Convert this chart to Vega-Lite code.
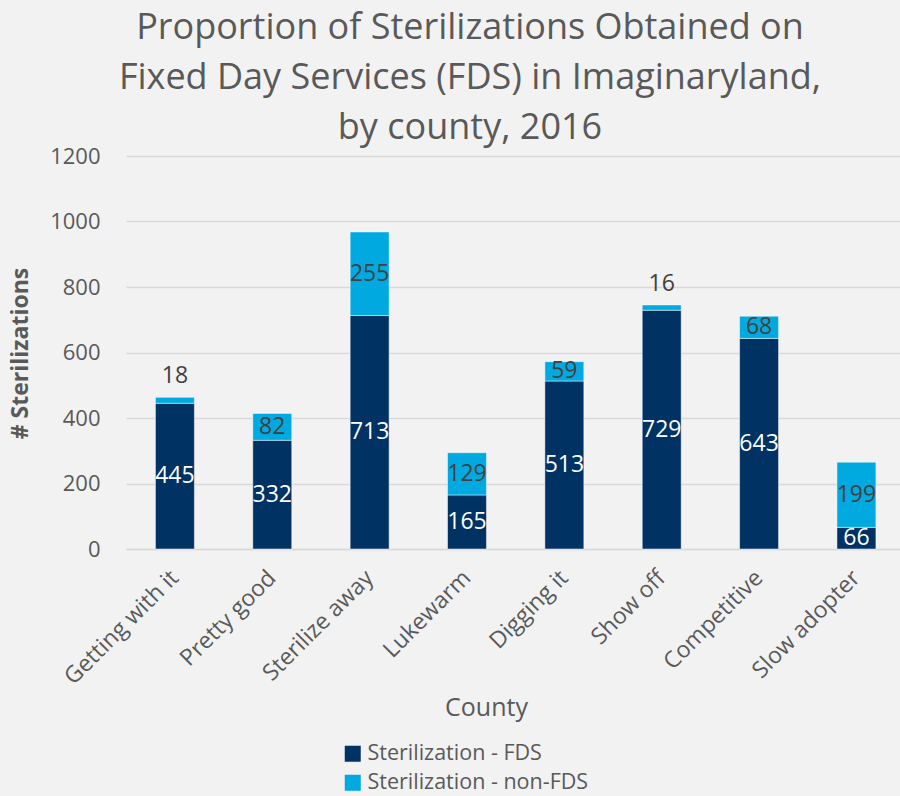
{
  "$schema": "https://vega.github.io/schema/vega-lite/v6.json",
  "autosize": "none",
  "width": 774,
  "height": 393,
  "padding": {"left": 126, "top": 156, "right": 0, "bottom": 247},
  "background": "#f2f2f2",
  "title": {
    "text": ["Proportion of Sterilizations Obtained on", "Fixed Day Services (FDS) in Imaginaryland,", "by county, 2016"],
    "font": "Open Sans",
    "fontSize": 36,
    "fontWeight": "normal",
    "color": "#595959",
    "lineHeight": 50,
    "anchor": "middle",
    "baseline": "bottom",
    "offset": -38,
    "dx": -43
  },
  "data": {
    "values": [
      {"county": "Getting with it", "series": "Sterilization - FDS", "value": 445},
      {"county": "Getting with it", "series": "Sterilization - non-FDS", "value": 18},
      {"county": "Pretty good", "series": "Sterilization - FDS", "value": 332},
      {"county": "Pretty good", "series": "Sterilization - non-FDS", "value": 82},
      {"county": "Sterilize away", "series": "Sterilization - FDS", "value": 713},
      {"county": "Sterilize away", "series": "Sterilization - non-FDS", "value": 255},
      {"county": "Lukewarm", "series": "Sterilization - FDS", "value": 165},
      {"county": "Lukewarm", "series": "Sterilization - non-FDS", "value": 129},
      {"county": "Digging it", "series": "Sterilization - FDS", "value": 513},
      {"county": "Digging it", "series": "Sterilization - non-FDS", "value": 59},
      {"county": "Show off", "series": "Sterilization - FDS", "value": 729},
      {"county": "Show off", "series": "Sterilization - non-FDS", "value": 16},
      {"county": "Competitive", "series": "Sterilization - FDS", "value": 643},
      {"county": "Competitive", "series": "Sterilization - non-FDS", "value": 68},
      {"county": "Slow adopter", "series": "Sterilization - FDS", "value": 66},
      {"county": "Slow adopter", "series": "Sterilization - non-FDS", "value": 199}
    ]
  },
  "encoding": {
    "x": {
      "field": "county",
      "type": "nominal",
      "sort": null,
      "scale": {"paddingInner": 0.6, "paddingOuter": 0.275, "align": 0.55},
      "axis": {
        "title": "County",
        "titleFont": "Open Sans",
        "titleFontSize": 25,
        "titleFontWeight": "normal",
        "titleColor": "#595959",
        "titleX": 360,
        "titleY": 158,
        "titleBaseline": "middle",
        "titleAlign": "center",
        "labelAngle": -45,
        "labelAlign": "right",
        "labelBaseline": "middle",
        "labelFont": "Open Sans",
        "labelFontSize": 23,
        "labelColor": "#595959",
        "labelPadding": 25,
        "labelLimit": 0,
        "ticks": false,
        "tickSize": 0,
        "domainColor": "#d9d9d9",
        "domainWidth": 1.5,
        "grid": false
      }
    }
  },
  "layer": [
    {
      "mark": {"type": "bar", "stroke": "#ffffff", "strokeOpacity": 0.6, "strokeWidth": 0.8},
      "encoding": {
        "y": {
          "field": "value",
          "type": "quantitative",
          "stack": "zero",
          "scale": {"domain": [0, 1200], "nice": false},
          "axis": {
            "title": "# Sterilizations",
            "titleFont": "Open Sans",
            "titleFontSize": 23,
            "titleFontWeight": "bold",
            "titleColor": "#595959",
            "titleX": -106,
            "titleY": 197,
            "titleAngle": -90,
            "titleAlign": "center",
            "titleBaseline": "middle",
            "values": [0, 200, 400, 600, 800, 1000, 1200],
            "format": "d",
            "labelFont": "Open Sans",
            "labelFontSize": 22,
            "labelColor": "#595959",
            "labelPadding": 26,
            "ticks": false,
            "tickSize": 0,
            "domain": false,
            "gridColor": "#d9d9d9",
            "gridWidth": 1.5
          }
        },
        "color": {
          "field": "series",
          "type": "nominal",
          "scale": {"domain": ["Sterilization - FDS", "Sterilization - non-FDS"], "range": ["#003263", "#00a9e0"]},
          "legend": {
            "title": null,
            "orient": "none",
            "legendX": 216,
            "legendY": 587,
            "direction": "vertical",
            "symbolType": "square",
            "symbolSize": 256,
            "symbolStrokeWidth": 0,
            "symbolOpacity": 1,
            "labelFont": "Open Sans",
            "labelFontSize": 21.5,
            "labelColor": "#595959",
            "labelOffset": 4,
            "labelLimit": 0,
            "rowPadding": 6,
            "padding": 0
          }
        },
        "order": {"field": "series", "sort": "ascending"}
      }
    },
    {
      "transform": [
        {"stack": "value", "groupby": ["county"], "sort": [{"field": "series", "order": "ascending"}], "as": ["v0", "v1"]},
        {"calculate": "(datum.v0 + datum.v1) / 2", "as": "mid"},
        {"filter": "datum.value >= 30"}
      ],
      "mark": {"type": "text", "font": "Open Sans", "fontSize": 23, "baseline": "middle", "align": "center"},
      "encoding": {
        "y": {"field": "mid", "type": "quantitative"},
        "text": {"field": "value", "type": "quantitative"},
        "color": {"condition": {"test": "datum.series === 'Sterilization - FDS'", "value": "#ffffff"}, "value": "#404040"}
      }
    },
    {
      "transform": [
        {"stack": "value", "groupby": ["county"], "sort": [{"field": "series", "order": "ascending"}], "as": ["v0", "v1"]},
        {"filter": "datum.value < 30"}
      ],
      "mark": {"type": "text", "font": "Open Sans", "fontSize": 23, "baseline": "middle", "align": "center", "dy": -21, "color": "#404040"},
      "encoding": {
        "y": {"field": "v1", "type": "quantitative"},
        "text": {"field": "value", "type": "quantitative"}
      }
    }
  ],
  "config": {
    "view": {"stroke": null},
    "axis": {"labelFont": "Open Sans", "titleFont": "Open Sans"}
  }
}
